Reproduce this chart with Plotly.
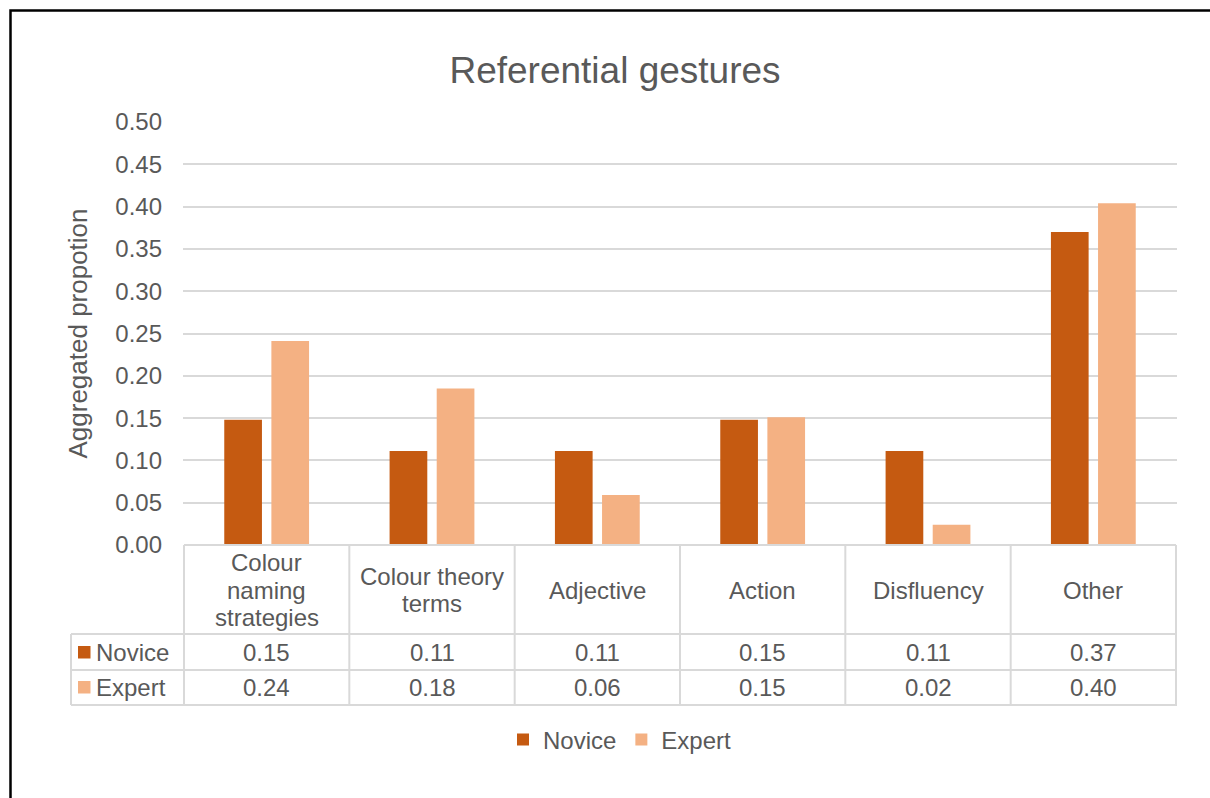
import plotly.graph_objects as go

# ---- data ----
categories = ["Colour naming strategies", "Colour theory terms", "Adjective",
              "Action", "Disfluency", "Other"]
header_lines = [["Colour", "naming", "strategies"], ["Colour theory", "terms"],
                ["Adjective"], ["Action"], ["Disfluency"], ["Other"]]
novice = [0.148, 0.111, 0.111, 0.148, 0.111, 0.370]
expert = [0.241, 0.185, 0.059, 0.151, 0.024, 0.404]
series_names = ["Novice", "Expert"]
y_ticks = [0.00, 0.05, 0.10, 0.15, 0.20, 0.25, 0.30, 0.35, 0.40, 0.45, 0.50]

# ---- styling ----
W, H = 1210, 798
ML, MR, MT, MB = 183, 33, 122, 253
PW, PH = W - ML - MR, H - MT - MB
C_NOV, C_EXP = "#C55A11", "#F4B183"
TXT = "#595959"
GRID = "#D9D9D9"
FONT = "Liberation Sans, Arial, sans-serif"
FS = 24
LINE_H = 27.5


def px_x(px):
    """Pixel column -> paper x."""
    return (px - ML) / PW


def px_y(py):
    """Pixel row -> paper y."""
    return (H - MB - py) / PH


fig = go.Figure()
fig.add_trace(go.Bar(name=series_names[0], x=categories, y=novice,
                     marker=dict(color=C_NOV, line=dict(width=0))))
fig.add_trace(go.Bar(name=series_names[1], x=categories, y=expert,
                     marker=dict(color=C_EXP, line=dict(width=0))))

shapes = []
annotations = []
n = len(categories)

# data table rows (pixel rows of the table lines)
row_top, row_mid, row_bot = 634, 670, 705
tbl_left = px_x(71)

line = dict(color=GRID, width=2)
# top border of header row
shapes.append(dict(type="line", xref="x", yref="paper", x0=-0.5, x1=n - 0.5,
                   y0=0, y1=0, line=line, layer="above"))
# column separators
for i in range(n + 1):
    shapes.append(dict(type="line", xref="x", yref="paper", x0=i - 0.5, x1=i - 0.5,
                       y0=0, y1=px_y(row_bot), line=line))
# horizontal row lines spanning the series-name column too
for r in (row_top, row_mid, row_bot):
    shapes.append(dict(type="line", xref="paper", yref="paper", x0=tbl_left, x1=1,
                       y0=px_y(r), y1=px_y(r), line=line))
shapes.append(dict(type="line", xref="paper", yref="paper", x0=tbl_left, x1=tbl_left,
                   y0=px_y(row_top), y1=px_y(row_bot), line=line))

# category headers, one annotation per wrapped line
for i, lines in enumerate(header_lines):
    k = len(lines)
    for j, txt in enumerate(lines):
        yc = 590 + (j - (k - 1) / 2) * LINE_H
        annotations.append(dict(xref="x", yref="paper", x=i, y=px_y(yc),
                                text=txt, showarrow=False,
                                xanchor="center", yanchor="middle",
                                font=dict(family=FONT, size=FS, color=TXT)))

# values rows
for vals, yc in ((novice, 652), (expert, 687)):
    for i, v in enumerate(vals):
        annotations.append(dict(xref="x", yref="paper", x=i, y=px_y(yc),
                                text=f"{v:.2f}", showarrow=False,
                                xanchor="center", yanchor="middle",
                                font=dict(family=FONT, size=FS, color=TXT)))

# series keys inside the table
for name, col, yc in ((series_names[0], C_NOV, 652), (series_names[1], C_EXP, 687)):
    shapes.append(dict(type="rect", xref="paper", yref="paper",
                       x0=px_x(78), x1=px_x(90.5), y0=px_y(yc - 6), y1=px_y(yc + 6.5),
                       fillcolor=col, line=dict(width=0)))
    annotations.append(dict(xref="paper", yref="paper", x=px_x(94), y=px_y(yc),
                            text=name, showarrow=False, xanchor="left", yanchor="middle",
                            font=dict(family=FONT, size=FS, color=TXT)))

# outer frame
shapes.append(dict(type="rect", xref="paper", yref="paper",
                   x0=px_x(10.5), x1=px_x(1300), y0=px_y(10.5), y1=px_y(900),
                   line=dict(color="black", width=2.5), fillcolor="rgba(0,0,0,0)"))

fig.update_layout(
    width=W, height=H,
    margin=dict(l=ML, r=MR, t=MT, b=MB, pad=0),
    paper_bgcolor="white", plot_bgcolor="white",
    font=dict(family=FONT, size=FS, color=TXT),
    title=dict(text="Referential gestures", x=615 / W, xref="container", xanchor="center",
               y=1 - 70 / H, yref="container", yanchor="middle",
               font=dict(family=FONT, size=37, color=TXT)),
    barmode="group", bargap=0.43, bargroupgap=0.2,
    showlegend=True,
    legend=dict(orientation="h", x=px_x(503), xanchor="left", y=px_y(740), yanchor="middle",
                font=dict(family=FONT, size=FS, color=TXT), bgcolor="rgba(0,0,0,0)",
                itemclick=False, itemdoubleclick=False, traceorder="normal"),
    shapes=shapes, annotations=annotations,
)
fig.update_xaxes(showticklabels=False, showgrid=False, zeroline=False, showline=False,
                 ticks="", fixedrange=True)
fig.update_yaxes(range=[0, 0.5], tickvals=y_ticks, tickformat=".2f",
                 showgrid=True, gridcolor=GRID, gridwidth=2, zeroline=False,
                 showline=False, ticks="", ticklabelstandoff=20,
                 tickfont=dict(family=FONT, size=FS, color=TXT),
                 title=dict(text="Aggregated propotion", standoff=20,
                            font=dict(family=FONT, size=26, color=TXT)),
                 fixedrange=True)

fig.write_html("out.html")
